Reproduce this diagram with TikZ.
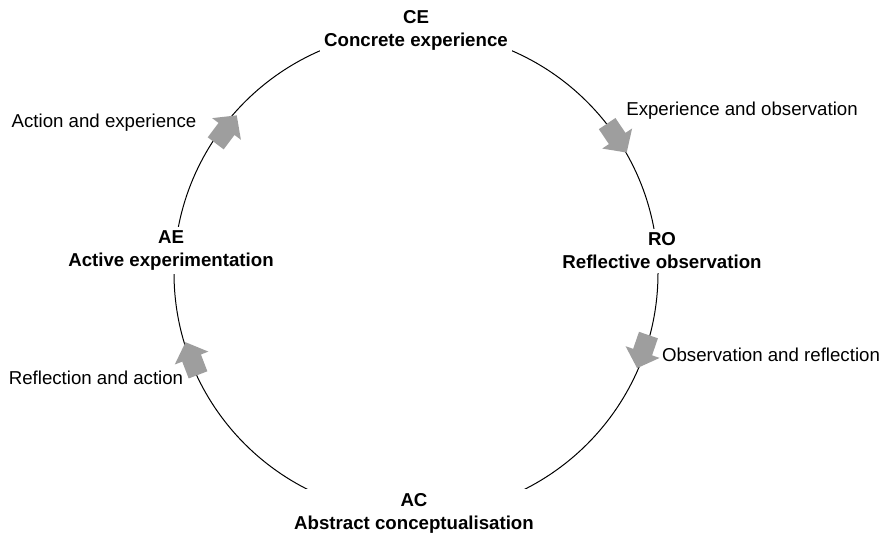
\documentclass[tikz,border=0pt]{standalone}
\usepackage{fontspec}
\setmainfont{Liberation Sans}
\usetikzlibrary{positioning}
\definecolor{flowgray}{gray}{0.62}

\tikzset{flowarrow/.pic={
	\fill [flowgray] (-17,-10) -- (1,-10) -- (1,-18) -- (18,0) -- (1,18) -- (1,10) -- (-17,10) -- cycle;
}}

\begin{document}
\begin{tikzpicture}[x=0.75pt,y=0.75pt,font=\fontsize{14}{17.25}\selectfont,
	stage/.style={align=center,fill=white,inner sep=3pt,font=\fontsize{14}{17.25}\selectfont\bfseries},
	note/.style={inner sep=0pt}]
	\useasboundingbox (0,0) rectangle (882,534);
	\coordinate (centre) at (416,261);
	\draw [line width=0.75pt] (centre) circle [radius=181.5pt];

	\node [stage] at (416,503.5) (ce) {CE\\Concrete experience};
	\node [stage] at (662,283) (ro) {RO\\Reflective observation};
	\node [stage] at (414,21) (ac) {AC\\Abstract conceptualisation};
	\node [stage] at (171,283.5) (ae) {AE\\Active experimentation};

	\pic [rotate=-56] at ([shift={(34:242)}]centre) {flowarrow};
	\pic [rotate=-109] at ([shift={(-19:240)}]centre) {flowarrow};
	\pic [rotate=111] at ([shift={(201:240)}]centre) {flowarrow};
	\pic [rotate=53] at ([shift={(143:238)}]centre) {flowarrow};

	\node [note] at (742,423) (lbl_ce_ro) {Experience and observation};
	\node [note] at (771,179) (lbl_ro_ac) {Observation and reflection};
	\node [note] at (96,156) (lbl_ac_ae) {Reflection and action};
	\node [note] at (104,411) (lbl_ae_ce) {Action and experience};
\end{tikzpicture}
\end{document}
